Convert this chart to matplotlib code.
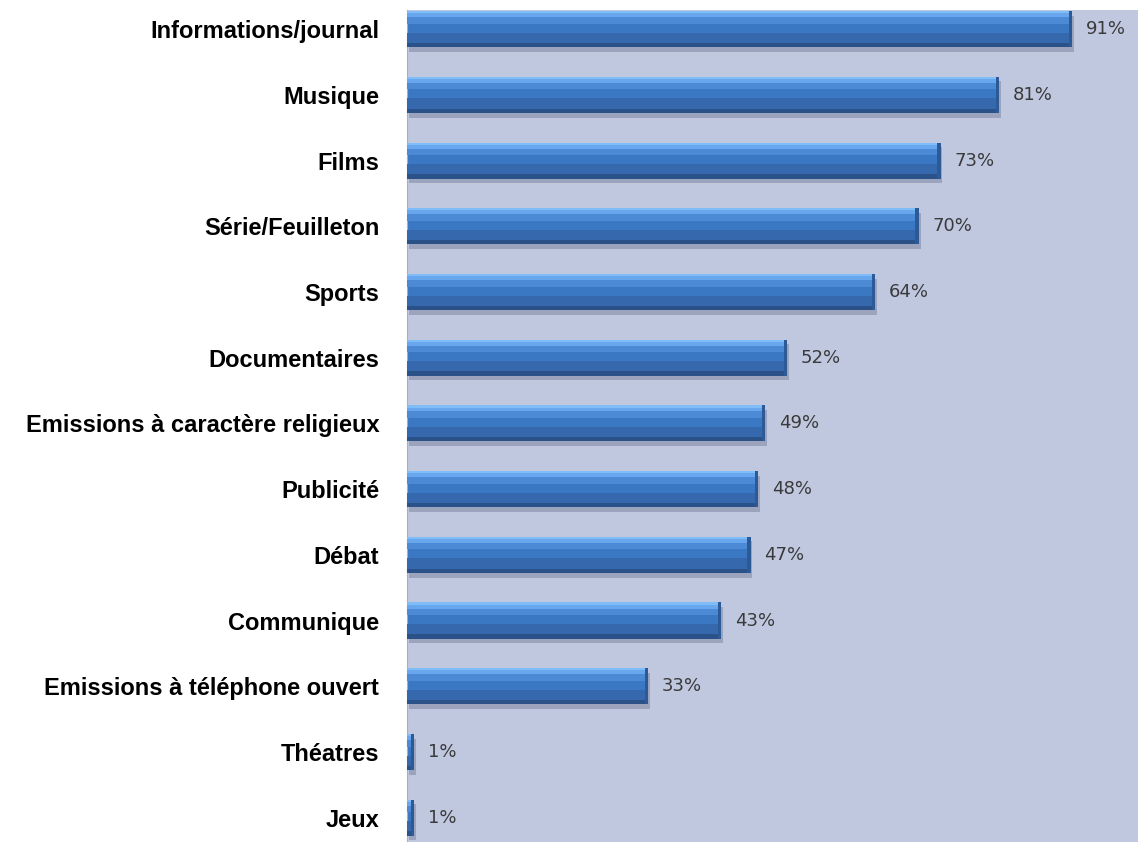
import matplotlib.pyplot as plt
import numpy as np

categories = ['Informations/journal', 'Musique', 'Films', 'Série/Feuilleton', 'Sports',
              'Documentaires', 'Emissions à caractère religieux', 'Publicité', 'Débat',
              'Communique', 'Emissions à téléphone ouvert', 'Théatres', 'Jeux']
values = [91, 81, 73, 70, 64, 52, 49, 48, 47, 43, 33, 1, 1]
labels = ['%d%%' % v for v in values]

fig = plt.figure(figsize=(11.38, 8.42), dpi=100)
ax = fig.add_axes([0.3577, 0.0, 0.6423, 0.988])
ax.set_facecolor('#c0c8e0')

y = np.arange(len(values))
h = 0.55

# shadow under the bars
ax.barh(y + 0.07, values, height=h, left=0.25, color='#7f86a0', alpha=0.55, zorder=1)
# main bar body
ax.barh(y, values, height=h, color='#3b78c4', zorder=2)
# darker lower band
ax.barh(y + h * 0.30, values, height=h * 0.40, color='#3568ad', zorder=3)
ax.barh(y + h * 0.44, values, height=h * 0.12, color='#2b5288', zorder=3)
# lighter upper band
ax.barh(y - h * 0.30, values, height=h * 0.30, color='#4c8ad6', zorder=3)
ax.barh(y - h * 0.40, values, height=h * 0.14, color='#68a6ee', zorder=3)
ax.barh(y - h * 0.47, values, height=h * 0.06, color='#7fbcf8', zorder=3)
# right end cap
ax.barh(y, [0.45] * len(values), left=np.array(values) - 0.45, height=h, color='#2c5a96', zorder=4)

for yi, v, lab in zip(y, values, labels):
    ax.annotate(lab, (v, yi), xytext=(10, 0), textcoords='offset points',
                va='center', ha='left', fontsize=13, color='#3a3a3a',
                family=['DejaVu Sans'])

ax.set_xlim(0, 100)
ax.set_ylim(12.37, -0.29)
ax.set_xticks([])
ax.set_yticks(y)
ax.set_yticklabels(categories, fontsize=17, fontweight='bold',
                   family=['Liberation Sans Narrow', 'Liberation Sans', 'DejaVu Sans'])
ax.tick_params(axis='y', length=0, pad=20)
for s in ['top', 'right', 'bottom']:
    ax.spines[s].set_visible(False)
ax.spines['left'].set_color('#a8aec0')

fig.savefig('out.png', dpi=100)
